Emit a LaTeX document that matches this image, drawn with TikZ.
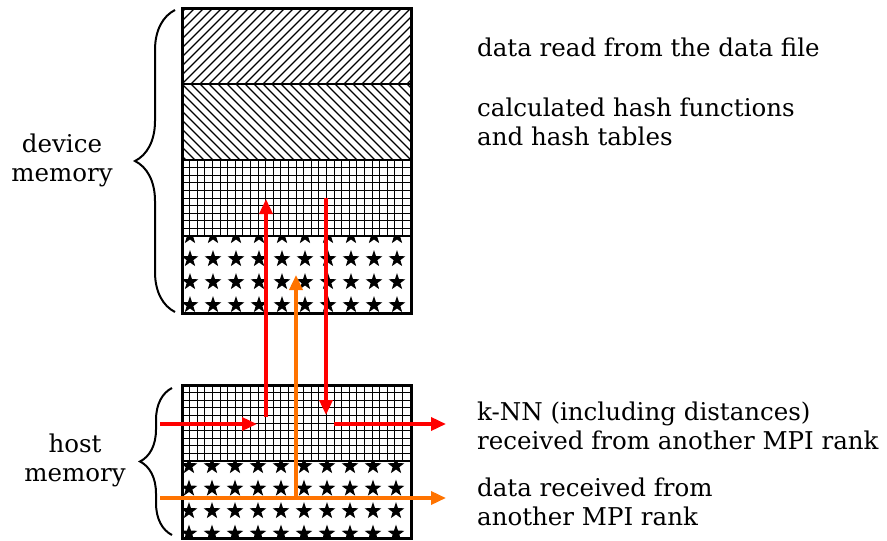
\documentclass[tikz,border=0pt]{standalone}
\usepackage{fontspec}
\setmainfont{DejaVu Serif}
\usetikzlibrary{arrows.meta,decorations.pathreplacing,calc}

% one unit = one point, y grows downwards
\tikzset{
  hatchline/.style={line width=1.3pt, black},
  gridline/.style={line width=1pt, black},
  bandsep/.style={line width=1.5pt, black},
  boxframe/.style={line width=3pt, black},
  flow/.style={line width=3.5pt, -{Triangle[length=15pt,width=13pt]}},
  redflow/.style={flow, red},
  orangeflow/.style={flow, draw=orange!90!red, fill=orange!90!red},
  memlabel/.style={align=center, font=\fontsize{24.5}{29}\selectfont, inner sep=0pt},
  sidelabel/.style={align=left, anchor=west, font=\fontsize{24.5}{29}\selectfont, inner sep=0pt},
  membrace/.style={decorate, line width=2pt, decoration={brace, amplitude=#1}},
}

% five-pointed star at (#1,#2)
\newcommand\starat[2]{%
  \fill[shift={(#1,#2)}] (270:8.8)
    \foreach \k in {1,...,9}{ -- ({270+36*\k}:{mod(\k,2)==0 ? 8.8 : 3.5}) } -- cycle;}

\begin{document}
\begin{tikzpicture}[x=1pt,y=-1pt]
\useasboundingbox (0,0) rectangle (887,541);

% ---------- device memory ----------
\coordinate (dTL) at (182,8);
\coordinate (dBR) at (411,313);

% data file: north east lines
\begin{scope}
  \clip (182,8) rectangle (411,84);
  \foreach \i in {-10,...,28} \draw[hatchline] ({182+9*\i},84) -- ++(76,-76);
\end{scope}
% hash functions / tables: north west lines
\begin{scope}
  \clip (182,84) rectangle (411,160);
  \foreach \i in {-10,...,28} \draw[hatchline] ({182+9*\i},84) -- ++(76,76);
\end{scope}
% k-NN buffer: grid
\begin{scope}
  \clip (182,160) rectangle (411,236);
  \foreach \i in {1,...,30} \draw[gridline] ({182+7.6*\i},160) -- ++(0,76);
  \foreach \j in {1,...,9} \draw[gridline] (182,{160+7.6*\j}) -- ++(229,0);
\end{scope}
% received data: stars
\begin{scope}
  \clip (182,236) rectangle (411,313);
  \foreach \r in {0,...,3}
    \foreach \c in {0,...,9}
      \starat{190+23*\c}{236+23*\r};
\end{scope}
\draw[bandsep] (182,84) -- (411,84);
\draw[bandsep] (182,160) -- (411,160);
\draw[bandsep] (182,236) -- (411,236);
\draw[boxframe] (dTL) rectangle (dBR);

% ---------- host memory ----------
\coordinate (hTL) at (182,385);
\coordinate (hBR) at (411,538);
\begin{scope}
  \clip (182,385) rectangle (411,461);
  \foreach \i in {1,...,30} \draw[gridline] ({182+7.6*\i},385) -- ++(0,76);
  \foreach \j in {1,...,9} \draw[gridline] (182,{385+7.6*\j}) -- ++(229,0);
\end{scope}
\begin{scope}
  \clip (182,461) rectangle (411,538);
  \foreach \r in {0,...,3}
    \foreach \c in {0,...,9}
      \starat{189+23*\c}{466+22.5*\r};
\end{scope}
\draw[bandsep] (182,461) -- (411,461);
\draw[boxframe] (hTL) rectangle (hBR);

% ---------- transfers ----------
\coordinate (upS) at (266,417);   \coordinate (upE) at (266,199);
\coordinate (dnS) at (326,198);   \coordinate (dnE) at (326,415);
\coordinate (inS) at (160,424);   \coordinate (inE) at (257,424);
\coordinate (outS) at (334,424);  \coordinate (outE) at (446,424);
\coordinate (oS) at (160,498);    \coordinate (oE) at (446,498);
\coordinate (oJ) at (296,498);    \coordinate (oT) at (296,275);

\draw[redflow] (upS) -- (upE);
\draw[redflow] (dnS) -- (dnE);
\draw[redflow] (inS) -- (inE);
\draw[redflow] (outS) -- (outE);
\draw[orangeflow] (oJ) -- (oT);
\draw[orangeflow] (oS) -- (oE);

% ---------- braces and labels ----------
\coordinate (dbB) at (175,312); \coordinate (dbT) at (175,10);
\coordinate (hbB) at (172,535); \coordinate (hbT) at (172,388);
\draw[membrace=40pt] (dbB) -- (dbT);
\draw[membrace=32pt] (hbB) -- (hbT);

\node[memlabel] (devlab) at (62,160) {device\\memory};
\node[memlabel] (hostlab) at (75,460) {host\\memory};

\node[sidelabel] (t1) at (477,47) {data read from the data file};
\node[sidelabel] (t2) at (477,122) {calculated hash functions\\and hash tables};
\node[sidelabel] (t3) at (477,426) {k-NN (including distances)\\received from another MPI rank};
\node[sidelabel] (t4) at (477,502) {data received from\\another MPI rank};
\end{tikzpicture}
\end{document}
